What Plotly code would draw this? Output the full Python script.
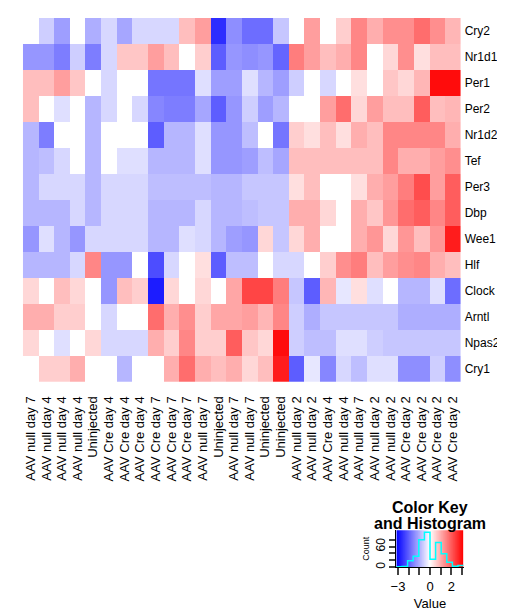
import numpy as np
import plotly.graph_objects as go

genes = ["Cry2", "Nr1d1", "Per1", "Per2", "Nr1d2", "Tef", "Per3", "Dbp",
         "Wee1", "Hlf", "Clock", "Arntl", "Npas2", "Cry1"]

samples = ["AAV null day 7", "AAV null day 4", "AAV null day 4", "AAV null day 4",
           "Uninjected", "AAV Cre day 4", "AAV Cre day 4", "AAV Cre day 4",
           "AAV Cre day 7", "AAV Cre day 7", "AAV Cre day 7", "AAV null day 7",
           "Uninjected", "AAV null day 7", "AAV null day 7", "Uninjected",
           "Uninjected", "AAV null day 2", "AAV null day 2", "AAV Cre day 4",
           "AAV null day 4", "AAV null day 7", "AAV null day 2", "AAV null day 2",
           "AAV Cre day 2", "AAV Cre day 2", "AAV Cre day 2", "AAV Cre day 2"]

cry2  = [0.0, -0.6, -1.2, 0.0, -1.0, -0.5, -1.1, -0.5, -0.5, -0.5, 0.8, 1.2, -2.6, -1.4,
         -1.8, -1.8, -0.7, 0.0, 1.2, 0.0, 0.6, 1.5, 1.0, 1.4, 1.4, 1.8, 1.4, 0.9]
nr1d1 = [-1.3, -1.3, -1.6, -0.6, -1.6, -0.5, 0.7, 0.7, 1.2, 0.8, 0.0, 0.6, -2.0, -1.3,
         -1.4, -1.3, -1.9, 1.6, 1.2, 0.8, 1.0, 1.5, 0.0, 0.5, 1.4, 0.4, 0.8, 0.8]
per1  = [0.8, 0.8, 1.2, 0.7, 0.0, -0.5, 0.0, 0.0, -1.7, -1.7, -1.7, -0.4, -1.2, -1.2,
         -0.4, -0.9, -1.2, -0.6, 0.0, -0.5, 0.0, 0.4, 0.0, 0.7, 0.5, 0.9, 3.0, 3.0]
per2  = [0.8, 0.0, -0.4, 0.0, -0.9, -0.5, 0.0, -0.5, -1.5, -1.6, -1.6, -1.1, -2.0, -1.3,
         -0.6, -1.2, -0.9, 0.0, 0.0, 1.2, 1.8, 0.5, 1.2, 0.8, 0.8, 2.0, 0.8, 0.9]
nr1d2 = [-0.9, -1.6, 0.0, 0.0, -0.9, 0.0, 0.0, 0.0, -2.0, -0.9, -0.9, -0.4, -1.3, -1.3,
         -0.8, 0.0, -1.7, 0.6, 0.4, 0.8, 0.4, 1.0, 0.8, 1.5, 1.5, 1.5, 1.5, 1.0]
tef   = [-0.9, -0.8, -0.5, 0.0, -0.9, 0.0, -0.4, -0.4, -0.9, -0.9, -0.9, -0.4, -1.3, -1.3,
         -1.2, -0.8, -1.1, 0.8, 0.8, 0.8, 0.8, 0.8, 0.8, 1.5, 1.0, 1.0, 1.2, 1.4]
per3  = [-0.9, -0.5, -0.5, -0.5, -0.9, -0.5, -0.5, -0.5, -0.8, -0.8, -0.8, -0.8, -0.9, -0.9,
         -0.7, -0.7, -0.7, 0.4, 0.8, 0.0, 0.0, 0.4, 1.0, 1.2, 1.6, 2.2, 1.2, 2.0]
dbp   = [-0.9, -0.9, -0.9, -0.5, -0.9, -0.5, -0.5, -0.5, -0.9, -0.9, -0.9, -0.5, -0.9, -0.9,
         -0.8, -0.7, -0.7, 1.0, 1.0, 0.5, 0.0, 1.0, 0.7, 1.3, 1.8, 2.0, 1.5, 2.0]
wee1  = [-1.3, -0.4, -0.9, -1.3, -0.5, -0.5, -0.5, -0.5, -0.9, -0.9, -0.4, -0.5, -0.9, -1.2,
         -1.3, 0.5, -0.7, 0.5, 1.0, 0.0, 0.0, 1.0, 1.3, 0.5, 1.3, 0.8, 1.3, 2.8]
hlf   = [-0.9, -0.9, -0.9, -0.5, 1.5, -1.3, -1.3, 0.0, -2.2, -0.5, 0.0, 0.4, -2.0, -0.8,
         -0.8, 0.0, -0.5, -0.5, 0.0, 0.6, 1.4, 1.6, 0.8, 1.2, 1.4, 1.5, 1.0, 0.8]
clock = [0.5, 0.0, 0.8, 0.5, 0.0, -1.3, 0.8, 0.6, -2.8, 0.5, 0.0, 0.5, 0.0, 1.1,
         2.3, 2.3, 1.6, -0.7, -2.0, 0.9, -0.3, 0.4, -0.4, 0.0, -0.9, -0.9, -0.4, -1.8]
arntl = [1.0, 1.0, 0.6, 0.6, 0.0, -0.5, 0.0, 0.0, 1.8, 1.0, 1.4, 0.6, 1.1, 1.1,
         1.2, 0.9, 1.5, -0.6, -1.0, -0.7, -0.7, -0.7, -0.7, -0.7, -1.0, -1.0, -1.0, -1.0]
npas2 = [0.5, 0.0, -0.4, 0.0, 0.5, -0.5, -0.5, -0.5, 1.0, 0.6, 1.5, 0.6, 0.6, 2.0,
         0.7, 0.5, 3.0, -0.6, -0.8, -0.8, -0.4, -0.4, -0.6, -0.7, -0.7, -0.7, -0.7, -0.7]
cry1  = [0.0, 0.6, 0.6, 1.0, 0.0, 0.0, -0.9, 0.0, 0.0, 1.0, 1.8, 1.0, 0.8, 1.0,
         0.5, 0.8, 2.8, -2.0, -0.3, -1.5, -0.5, -0.8, -0.4, -0.4, -1.4, -1.4, -0.6, -1.4]

rows = [cry2, nr1d1, per1, per2, nr1d2, tef, per3, dbp, wee1, hlf, clock, arntl, npas2, cry1]

key_min, key_max = -3.15, 3.15
key_ticks = [-3, -2, -1, 0, 1, 2, 3]
key_ticktext = ["\u22123", "", "", "0", "", "2", ""]
count_ticks = [0, 20, 40, 60, 80]
count_ticktext = ["0", "", "", "60", ""]

Z = np.array(rows)
colorscale = [[0.0, "rgb(0,0,255)"], [0.5, "rgb(255,255,255)"], [1.0, "rgb(255,0,0)"]]

W, H = 505, 615
def px(x):
    return x / W
def py(y):
    return 1 - y / H

FONT = "Liberation Sans, Arial, Helvetica, sans-serif"

fig = go.Figure()
fig.add_trace(go.Heatmap(
    z=Z, x=list(range(len(samples))), y=list(range(len(genes))),
    colorscale=colorscale, zmin=key_min, zmax=key_max, showscale=False,
    xaxis="x", yaxis="y", hoverinfo="skip"))

# color key
grad = np.linspace(key_min, key_max, 300)
breaks = np.linspace(key_min, key_max, 13)
counts, _ = np.histogram(Z.ravel(), bins=breaks)
ymax = counts.max() / 0.95
fig.add_trace(go.Heatmap(
    z=[grad, grad], x=grad, y=[0, ymax], colorscale=colorscale,
    zmin=key_min, zmax=key_max, showscale=False, xaxis="x2", yaxis="y2",
    hoverinfo="skip"))
fig.add_trace(go.Scatter(
    x=breaks, y=np.append(counts, counts[-1]), mode="lines",
    line=dict(color="cyan", width=1.5, shape="hv"), xaxis="x2", yaxis="y2",
    hoverinfo="skip", showlegend=False))

fig.update_layout(
    width=W, height=H, margin=dict(l=0, r=0, t=0, b=0),
    paper_bgcolor="white", plot_bgcolor="white", showlegend=False,
    font=dict(family=FONT, size=13, color="black"),
    xaxis=dict(domain=[px(9), px(452)], range=[-0.5, len(samples) - 0.5],
               tickvals=list(range(len(samples))), ticktext=samples,
               tickangle=-90, showgrid=False, zeroline=False, ticks="",
               ticklabelstandoff=11, tickfont=dict(size=13)),
    yaxis=dict(domain=[py(375), py(10)], range=[len(genes) - 0.5, -0.5],
               tickvals=list(range(len(genes))), ticktext=genes, side="right",
               showgrid=False, zeroline=False, ticks="", anchor="x",
               ticklabelstandoff=3, tickfont=dict(size=12)),
    xaxis2=dict(domain=[px(387), px(455)], anchor="y2", range=[key_min, key_max],
                tickvals=key_ticks, ticktext=key_ticktext, ticks="outside",
                ticklen=7, tickwidth=1.5, showline=True, linecolor="black",
                linewidth=1, showgrid=False, zeroline=False,
                tickfont=dict(size=13),
                title=dict(text="Value", font=dict(size=13), standoff=6)),
    yaxis2=dict(domain=[py(561), py(524)], anchor="x2", range=[0, ymax],
                tickvals=count_ticks, ticktext=count_ticktext, ticks="outside",
                ticklen=6, tickwidth=1.5, tickangle=-90, showline=True,
                linecolor="black", linewidth=1, showgrid=False, zeroline=False,
                tickfont=dict(size=12),
                title=dict(text="Count", font=dict(size=9), standoff=2)),
    annotations=[
        dict(text="<b>Color Key</b>", x=px(421), y=py(501), xref="paper", yref="paper",
             showarrow=False, font=dict(size=16), xanchor="center", yanchor="middle"),
        dict(text="<b>and Histogram</b>", x=px(421), y=py(517), xref="paper", yref="paper",
             showarrow=False, font=dict(size=16), xanchor="center", yanchor="middle"),
    ],
)

fig.write_html("out.html")
